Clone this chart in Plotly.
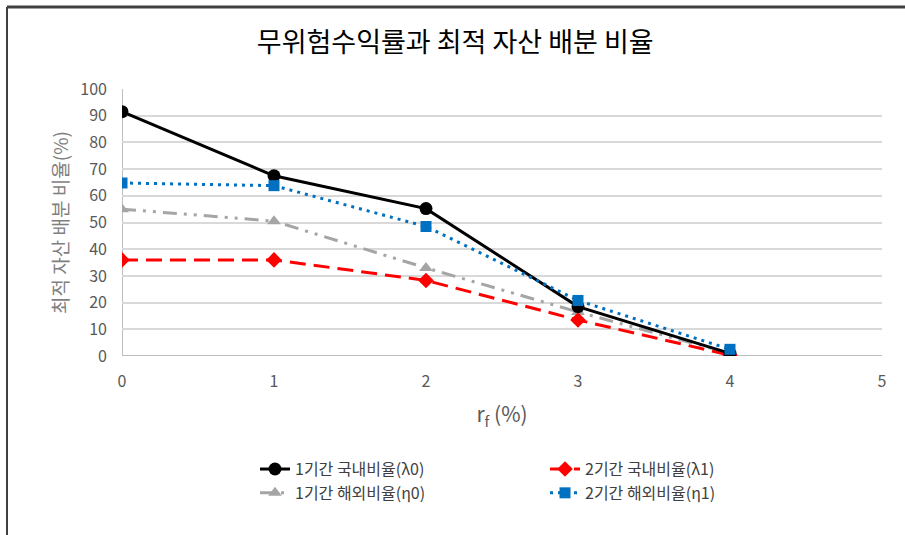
import plotly.graph_objects as go

rf = [0, 1, 2, 3, 4]
lam0 = [91.5, 67.5, 55.2, 18.5, 1.0]
lam1 = [36.0, 36.0, 28.3, 13.5, 0.3]
eta0 = [55.0, 50.5, 33.0, 16.5, 1.0]
eta1 = [64.8, 63.8, 48.5, 20.8, 2.5]

names = ["1기간 국내비율(λ0)", "2기간 국내비율(λ1)", "1기간 해외비율(η0)", "2기간 해외비율(η1)"]

FONT = "Noto Sans CJK KR"

fig = go.Figure()

fig.add_trace(go.Scatter(
    x=rf, y=eta0, name=names[2], mode="lines+markers", legendrank=3,
    line=dict(color="#a5a5a5", width=3, dash="14px,7px,3px,7px,3px,7px"),
    marker=dict(symbol="triangle-up", size=12, color="#a5a5a5")))
fig.add_trace(go.Scatter(
    x=rf, y=lam1, name=names[1], mode="lines+markers", legendrank=2,
    line=dict(color="#ff0000", width=3, dash="16px,8px"),
    marker=dict(symbol="diamond", size=12, color="#ff0000")))
fig.add_trace(go.Scatter(
    x=rf, y=lam0, name=names[0], mode="lines+markers", legendrank=1,
    line=dict(color="#000000", width=3),
    marker=dict(symbol="circle", size=13, color="#000000")))
fig.add_trace(go.Scatter(
    x=rf, y=eta1, name=names[3], mode="lines+markers", legendrank=4,
    line=dict(color="#0070c0", width=3, dash="3px,5px"),
    marker=dict(symbol="square", size=11, color="#0070c0")))

fig.update_layout(
    width=905, height=535,
    margin=dict(l=122, r=23, t=89, b=179, autoexpand=False),
    paper_bgcolor="white", plot_bgcolor="white",
    font=dict(family=FONT, color="#595959"),
    title=dict(text="무위험수익률과 최적 자산 배분 비율", x=0.503, xref="container",
               y=0.921, yanchor="middle",
               font=dict(family=FONT, size=27, color="#000000")),
    xaxis=dict(range=[0, 5], dtick=1, tick0=0, showgrid=False, zeroline=False,
               showline=False, ticks="", ticklabelstandoff=14, automargin=False,
               tickfont=dict(size=16, color="#595959"),
               title=dict(text="r<sub>f</sub> (%)", font=dict(size=21, color="#595959"),
                          standoff=16)),
    yaxis=dict(range=[0, 100], dtick=10, showgrid=True, gridcolor="#d9d9d9", gridwidth=1.5,
               zeroline=False, showline=False, ticks="", ticklabelstandoff=14, automargin=False,
               tickfont=dict(size=16, color="#595959"),
               title=dict(text="최적 자산 배분 비율(%)", font=dict(size=19, color="#7f7f7f"),
                          standoff=6)),
    legend=dict(orientation="h", x=0.175, xanchor="left", y=-0.36, yanchor="top",
                entrywidth=245, entrywidthmode="pixels",
                font=dict(family=FONT, size=16, color="#404040"),
                bgcolor="rgba(0,0,0,0)"),
    showlegend=True,
)

# axis lines at x=0 and y=0
fig.add_shape(type="line", xref="x", yref="y", x0=0, x1=5, y0=0, y1=0,
              line=dict(color="#bfbfbf", width=2), layer="below")
fig.add_shape(type="line", xref="x", yref="y", x0=0, x1=0, y0=0, y1=100,
              line=dict(color="#bfbfbf", width=2), layer="below")

# chart frame (left and top edges)
fx0 = (7 - 122) / 760
fx1 = (910 - 122) / 760
fy_top = (356 - 7) / 267
fy_bot = (356 - 540) / 267
fig.add_shape(type="line", xref="paper", yref="paper", x0=fx0, x1=fx0, y0=fy_bot, y1=fy_top,
              line=dict(color="#404040", width=2), layer="above")
fig.add_shape(type="line", xref="paper", yref="paper", x0=fx0, x1=fx1, y0=fy_top, y1=fy_top,
              line=dict(color="#404040", width=3), layer="above")

fig.write_html("out.html", config={"displayModeBar": False},
               post_script="document.body.style.margin='0';")
